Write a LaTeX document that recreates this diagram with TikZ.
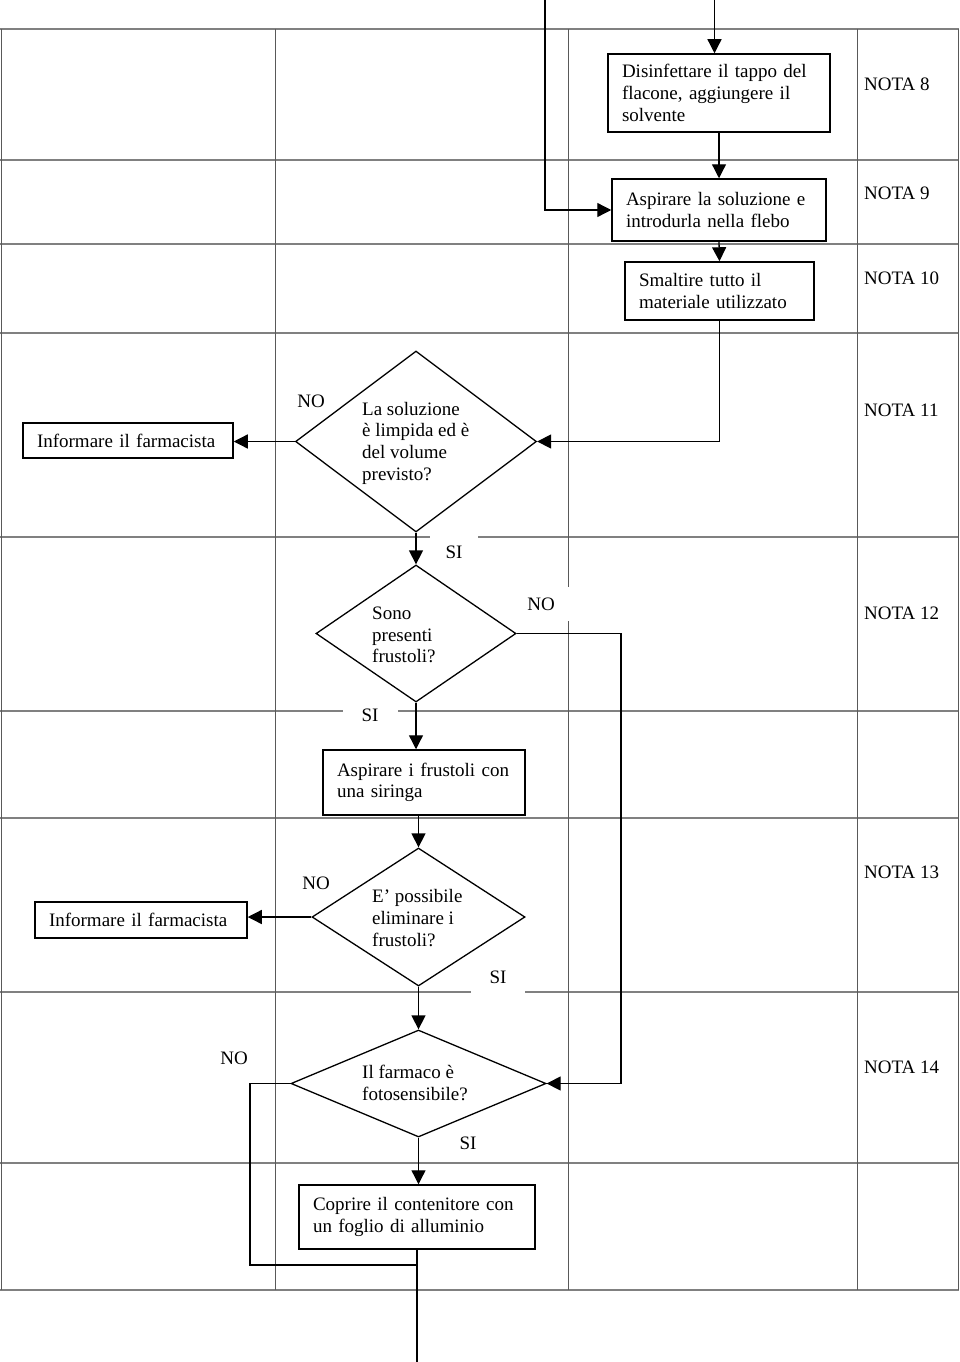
\documentclass[tikz,border=0pt]{standalone}
\usepackage{fontspec}
\setmainfont{Liberation Serif}
\usetikzlibrary{arrows.meta,shapes.geometric}
\begin{document}
\begin{tikzpicture}[x=1pt,y=-1pt,
  gridh/.style={draw=black!50, line width=1.6pt},
  gridv/.style={draw=black!65, line width=0.9pt},
  flow/.style={draw=black, line width=1.3pt},
  arr/.style={flow, -{Triangle[length=14pt,width=14pt]}},
  tf/.style={font=\fontsize{19}{21.7}\selectfont},
  box/.style={tf, draw=black, line width=1.5pt, align=left, inner xsep=14pt, inner ysep=0pt},
  dia/.style={diamond, draw=black, line width=1.3pt, inner sep=0pt},
  txt/.style={tf, align=left, inner sep=0pt},
  lbl/.style={tf, inner sep=0pt},
  lblw/.style={lbl, fill=white}
]
\useasboundingbox (0,0) rectangle (960,1362);

% grid
\foreach \yy in {29,160,244,333,537,711,818,992,1163,1290}
  \draw[gridh] (0,\yy) -- (959,\yy);
\foreach \xx in {1,275,568,857,958}
  \draw[gridv] (\xx,29) -- (\xx,1290);

% boxes
\node[box, text width=194pt, minimum height=78pt] (b1) at (719,93) {Disinfettare il tappo del\\flacone, aggiungere il\\solvente};
\node[box, text width=186pt, minimum height=62pt] (b2) at (719,210) {Aspirare la soluzione e\\introdurla nella flebo};
\node[box, text width=161pt, minimum height=58pt] (b3) at (719.5,291) {Smaltire tutto il\\materiale utilizzato};
\node[box, text width=182pt, minimum height=35pt] (inf1) at (128,440.5) {Informare il farmacista};
\node[box, text width=174pt, minimum height=65pt] (asp) at (424,782.5) {Aspirare i frustoli con\\una siringa};
\node[box, text width=184pt, minimum height=36pt] (inf2) at (141,920) {Informare il farmacista};
\node[box, text width=208pt, minimum height=64pt] (cop) at (417,1217) {Coprire il contenitore con\\un foglio di alluminio};

% diamonds
\node[dia, minimum width=241pt, minimum height=181pt] (d1) at (416,441.5) {};
\node[dia, minimum width=200pt, minimum height=137pt] (d2) at (416,633.5) {};
\node[dia, minimum width=213pt, minimum height=138pt] (d3) at (418.5,917) {};
\node[dia, minimum width=255pt, minimum height=107pt] (d4) at (418.5,1083.5) {};
\node[txt, anchor=west] (t1) at (362,443) {La soluzione\\è limpida ed è\\del volume\\previsto?};
\node[txt, anchor=west] (t2) at (372,635) {Sono\\presenti\\frustoli?};
\node[txt, anchor=west] (t3) at (372,918) {E’ possibile\\eliminare i\\frustoli?};
\node[txt, anchor=west] (t4) at (362,1083) {Il farmaco è\\fotosensibile?};

% labels
\node[lbl] (no1) at (311,401) {NO};
\node[lblw, minimum width=48pt, minimum height=34pt] (si1) at (454,552) {SI};
\node[lblw, minimum width=58pt, minimum height=34pt] (no2) at (541,604) {NO};
\node[lblw, minimum width=55pt, minimum height=22pt] (si2) at (370,715) {SI};
\node[lbl] (no3) at (316,883) {NO};
\node[lblw, minimum width=54pt, minimum height=34pt] (si3) at (498,977) {SI};
\node[lbl] (no4) at (234,1058) {NO};
\node[lbl] (si4) at (468,1143) {SI};

% notes
\node[lbl, anchor=west] (n8) at (864,84) {NOTA 8};
\node[lbl, anchor=west] (n9) at (864,193) {NOTA 9};
\node[lbl, anchor=west] (n10) at (864,278) {NOTA 10};
\node[lbl, anchor=west] (n11) at (864,410) {NOTA 11};
\node[lbl, anchor=west] (n12) at (864,613) {NOTA 12};
\node[lbl, anchor=west] (n13) at (864,872) {NOTA 13};
\node[lbl, anchor=west] (n14) at (864,1067) {NOTA 14};

% free ends / corners
\coordinate (top1) at (545,0);
\coordinate (top2) at (714.5,0);
\coordinate (r1) at (621,1083.5);
\coordinate (l1) at (250,1265);
\coordinate (bot) at (417,1362);

% connectors
\draw[arr] (top2) -- (top2 |- b1.north);
\draw[arr] (b1.south) -- (b2.north);
\draw[arr] (b2.south) -- (b3.north);
\draw[arr] (top1) |- (b2.west);
\draw[arr] (b3.south) |- (d1.east);
\draw[arr] (d1.west) -- (d1.west -| inf1.east);
\draw[arr] (d1.south) -- (d2.north);
\draw[flow] (d2.east) -| (r1);
\draw[arr] (r1) -- (d4.east);
\draw[arr] (d2.south) -- (d2.south |- asp.north);
\draw[arr] (d3.north |- asp.south) -- (d3.north);
\draw[arr] (d3.west) -- (d3.west -| inf2.east);
\draw[arr] (d3.south) -- (d4.north);
\draw[arr] (d4.south) -- (d4.south |- cop.north);
\draw[flow] (d4.west) -| (l1) -- (l1 -| cop.south);
\draw[flow] (cop.south) -- (bot);
\end{tikzpicture}
\end{document}
